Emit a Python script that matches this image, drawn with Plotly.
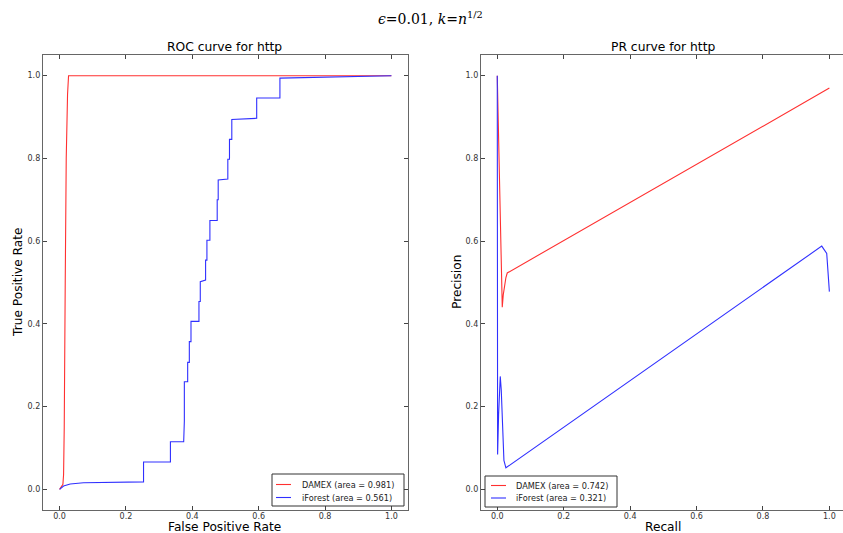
import plotly.graph_objects as go

# ROC curve data (http)
roc_damex_fpr = [0.0, 0.010, 0.012, 0.014, 0.017, 0.020, 0.024, 0.027, 1.0]
roc_damex_tpr = [0.0, 0.012, 0.035, 0.150, 0.500, 0.800, 0.955, 1.0, 1.0]

roc_if_fpr = [0.0, 0.012, 0.032, 0.072, 0.253, 0.253, 0.334, 0.334, 0.374, 0.376, 0.376, 0.386, 0.386,
              0.391, 0.391, 0.396, 0.396, 0.420, 0.420, 0.424, 0.424, 0.440, 0.440, 0.444, 0.444,
              0.453, 0.453, 0.475, 0.475, 0.478, 0.478, 0.507, 0.507, 0.512, 0.512, 0.519, 0.519,
              0.594, 0.594, 0.664, 0.664, 0.85, 1.0]
roc_if_tpr = [0.0, 0.008, 0.013, 0.016, 0.018, 0.066, 0.066, 0.115, 0.115, 0.165, 0.260, 0.260, 0.307,
              0.307, 0.357, 0.357, 0.406, 0.406, 0.454, 0.454, 0.502, 0.506, 0.554, 0.554, 0.602,
              0.602, 0.650, 0.650, 0.700, 0.700, 0.748, 0.750, 0.798, 0.798, 0.846, 0.846, 0.894,
              0.897, 0.946, 0.946, 0.994, 0.998, 1.0]

# PR curve data (http)
pr_damex_rec = [0.0, 0.015, 0.018, 0.022, 0.026, 0.030, 1.0]
pr_damex_prec = [1.0, 0.440, 0.470, 0.495, 0.512, 0.523, 0.970]

pr_if_rec = [0.0, 0.0005, 0.001, 0.004, 0.007, 0.009, 0.012, 0.016, 0.020, 0.026, 0.977, 0.992, 1.0]
pr_if_prec = [1.0, 0.40, 0.084, 0.18, 0.25, 0.273, 0.24, 0.14, 0.07, 0.052, 0.588, 0.570, 0.478]

labels_roc = ["DAMEX (area = 0.981)", "iForest (area = 0.561)"]
labels_pr = ["DAMEX (area = 0.742)", "iForest (area = 0.321)"]

RED = "#ff3030"
BLUE = "#3030ff"

fig = go.Figure()
fig.add_trace(go.Scatter(x=roc_damex_fpr, y=roc_damex_tpr, mode="lines", name=labels_roc[0],
                         line=dict(color=RED, width=1.1), xaxis="x", yaxis="y"))
fig.add_trace(go.Scatter(x=roc_if_fpr, y=roc_if_tpr, mode="lines", name=labels_roc[1],
                         line=dict(color=BLUE, width=1.1), xaxis="x", yaxis="y"))
fig.add_trace(go.Scatter(x=pr_damex_rec, y=pr_damex_prec, mode="lines", name=labels_pr[0],
                         line=dict(color=RED, width=1.1), xaxis="x2", yaxis="y2"))
fig.add_trace(go.Scatter(x=pr_if_rec, y=pr_if_prec, mode="lines", name=labels_pr[1],
                         line=dict(color=BLUE, width=1.1), xaxis="x2", yaxis="y2"))

W, H = 843, 533
ticks = [0.0, 0.2, 0.4, 0.6, 0.8, 1.0]
tick_text = ["%.1f" % t for t in ticks]
axis_common = dict(showgrid=False, zeroline=False, showline=True, linecolor="#666", linewidth=1.3,
                   ticks="inside", ticklen=4, tickcolor="#444", tickvals=ticks, ticktext=tick_text,
                   tickfont=dict(family="DejaVu Sans", size=8, color="#333"), automargin=False)

y_dom = [(H - 510) / H, (H - 55) / H]
fig.update_layout(
    width=W, height=H,
    margin=dict(l=0, r=0, t=0, b=0),
    paper_bgcolor="white", plot_bgcolor="white",
    font=dict(family="DejaVu Sans", color="black"),
    xaxis=dict(domain=[43 / W, 408 / W], range=[-0.05, 1.05], mirror="ticks", anchor="y",
               ticklabelstandoff=-2, **axis_common),
    yaxis=dict(domain=y_dom, range=[-0.05, 1.05], mirror="ticks", anchor="x", **axis_common),
    xaxis2=dict(domain=[481 / W, 1.0], range=[-0.049, 1.041], mirror="ticks", anchor="y2",
                ticklabelstandoff=-2, **axis_common),
    yaxis2=dict(domain=y_dom, range=[-0.05, 1.05], mirror=False, anchor="x2", **axis_common),
    showlegend=False,
)

annots = [
    dict(text="<i>ϵ</i>=0.01, <i>k</i>=<i>n</i><sup>1/2</sup>", x=430 / W, y=(H - 18) / H,
         font=dict(family="DejaVu Serif", size=14)),
    dict(text="ROC curve for http", x=225 / W, y=(H - 47) / H, font=dict(size=12.3)),
    dict(text="PR curve for http", x=663 / W, y=(H - 47) / H, font=dict(size=12.3)),
    dict(text="False Positive Rate", x=225 / W, y=(H - 527) / H, font=dict(size=12.2)),
    dict(text="Recall", x=663 / W, y=(H - 527) / H, font=dict(size=12.2)),
    dict(text="True Positive Rate", x=18 / W, y=(H - 282) / H, font=dict(size=12.2), textangle=-90),
    dict(text="Precision", x=457 / W, y=(H - 282) / H, font=dict(size=12.2), textangle=-90),
]
for a in annots:
    fig.add_annotation(xref="paper", yref="paper", showarrow=False, xanchor="center", yanchor="middle", **a)

# matplotlib-style legend boxes (pixel layout -> paper coords)
def px(x):
    return x / W

def py(y):
    return (H - y) / H

legends = [
    dict(box=(272, 474, 404, 506), sample=(276, 291), text_x=300, rows=(484.5, 497.5), labels=labels_roc),
    dict(box=(485, 476, 617, 507), sample=(491, 506), text_x=514, rows=(485.5, 498.0), labels=labels_pr),
]
for lg in legends:
    x0, y0, x1, y1 = lg["box"]
    fig.add_shape(type="rect", xref="paper", yref="paper", x0=px(x0), x1=px(x1), y0=py(y1), y1=py(y0),
                  line=dict(color="#333", width=1), fillcolor="white", layer="above")
    for ry, col, lab in zip(lg["rows"], [RED, BLUE], lg["labels"]):
        fig.add_shape(type="line", xref="paper", yref="paper", x0=px(lg["sample"][0]), x1=px(lg["sample"][1]),
                      y0=py(ry), y1=py(ry), line=dict(color=col, width=1.1), layer="above")
        fig.add_annotation(xref="paper", yref="paper", showarrow=False, xanchor="left", yanchor="middle",
                           x=px(lg["text_x"]), y=py(ry), text=lab,
                           font=dict(family="DejaVu Sans", size=8.2, color="#222"))

fig.write_html("out.html", config={"displayModeBar": False},
               post_script="document.body.style.margin='0px';document.body.style.overflow='hidden';")
